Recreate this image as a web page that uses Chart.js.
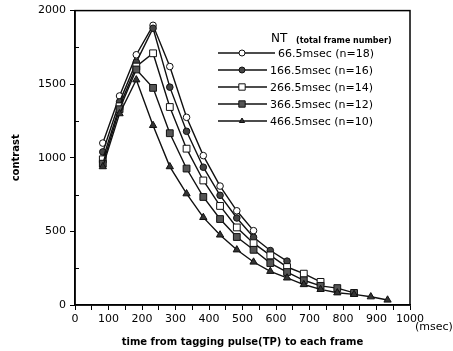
<!DOCTYPE html>
<html>
<head>
<meta charset="utf-8">
<script src="https://cdn.jsdelivr.net/npm/chart.js@4.4.1/dist/chart.umd.min.js"></script>
<style>
  html, body { margin: 0; padding: 0; background: #fff; }
  #wrap { width: 453px; height: 351px; position: relative; }
</style>
</head>
<body>
<div id="wrap"><canvas id="c"></canvas></div>
<script>
// time from tagging pulse (msec)
const times = [83, 133, 183, 233, 283, 333, 383, 433, 483, 533, 583, 633, 683, 733, 783, 833, 883, 933];

const labels = ['66.5msec (n=18)', '166.5msec (n=16)', '266.5msec (n=14)', '366.5msec (n=12)', '466.5msec (n=10)'];

const nt66  = [1100, 1420, 1700, 1900, 1620, 1275, 1015, 808, 640, 505];
const nt166 = [1040, 1380, 1650, 1880, 1480, 1180, 936, 745, 591, 460, 370, 298];
const nt266 = [990, 1350, 1620, 1710, 1345, 1062, 846, 673, 527, 420, 337, 258, 213, 157];
const nt366 = [960, 1330, 1600, 1475, 1167, 927, 734, 584, 462, 375, 285, 224, 168, 130, 115, 82];
const nt466 = [940, 1300, 1530, 1220, 940, 756, 595, 476, 375, 292, 229, 184, 139, 106, 83, 72, 56, 34];

const xTicks = { min: 0, max: 1000, step: 50 };
const yTicks = { min: 0, max: 2000, step: 500 };

const FONT = '"DejaVu Sans", Verdana, sans-serif';

function pts(vals) {
  return vals.map((v, i) => ({ x: times[i], y: v }));
}

function series(label, vals, style, fill, radius) {
  return {
    label: label,
    data: pts(vals),
    showLine: true,
    borderColor: '#111',
    borderWidth: 1.4,
    pointStyle: style,
    pointRadius: radius,
    pointBorderWidth: 1,
    pointBorderColor: '#111',
    pointBackgroundColor: fill,
    tension: 0,
  };
}

const datasets = [
  series(labels[4], nt466, 'triangle', '#333', 4.2),
  series(labels[3], nt366, 'rect', '#555', 4.8),
  series(labels[2], nt266, 'rect', '#fff', 4.8),
  series(labels[1], nt166, 'circle', '#444', 3.3),
  series(labels[0], nt66, 'circle', '#fff', 3.3),
];

function drawMarker(ctx, style, x, y, r, fill) {
  ctx.save();
  ctx.fillStyle = fill;
  ctx.strokeStyle = '#111';
  ctx.lineWidth = 1;
  ctx.beginPath();
  if (style === 'circle') {
    ctx.arc(x, y, r, 0, Math.PI * 2);
  } else if (style === 'rect') {
    const s = r * Math.SQRT1_2;
    ctx.rect(x - s, y - s, 2 * s, 2 * s);
  } else {
    ctx.moveTo(x, y - r);
    ctx.lineTo(x + r * 0.866, y + r * 0.5);
    ctx.lineTo(x - r * 0.866, y + r * 0.5);
    ctx.closePath();
  }
  ctx.fill();
  ctx.stroke();
  ctx.restore();
}

const decor = {
  id: 'decor',
  afterDraw(chart) {
    const ctx = chart.ctx;
    const a = chart.chartArea;
    const ys = chart.scales.y;

    ctx.save();
    // frame
    ctx.strokeStyle = '#000';
    ctx.lineWidth = 1.5;
    ctx.strokeRect(a.left, a.top, a.right - a.left, a.bottom - a.top);

    // minor y ticks, inside
    ctx.lineWidth = 1;
    for (let v = 250; v < 2000; v += 500) {
      const py = Math.round(ys.getPixelForValue(v)) + 0.5;
      ctx.beginPath();
      ctx.moveTo(a.left, py);
      ctx.lineTo(a.left + 4, py);
      ctx.stroke();
    }

    // unit
    ctx.fillStyle = '#000';
    ctx.font = '11px ' + FONT;
    ctx.textAlign = 'left';
    ctx.textBaseline = 'middle';
    ctx.fillText('(msec)', 415, 327);

    // legend
    ctx.font = '12px ' + FONT;
    ctx.fillText('NT', 271, 39);
    ctx.font = 'bold 8px ' + FONT;
    ctx.fillText('(total frame number)', 296, 41);

    ctx.font = '11px ' + FONT;
    const order = [4, 3, 2, 1, 0];
    order.forEach((di, row) => {
      const ds = chart.data.datasets[di];
      const y = 53 + row * 17;
      const tx = row === 0 ? 278 : 270;
      ctx.strokeStyle = '#111';
      ctx.lineWidth = 1.4;
      ctx.beginPath();
      ctx.moveTo(218, y);
      ctx.lineTo(tx - 3, y);
      ctx.stroke();
      drawMarker(ctx, ds.pointStyle, 242, y, ds.pointStyle === 'rect' ? 4.5 : 3, ds.pointBackgroundColor);
      ctx.fillStyle = '#000';
      ctx.fillText(ds.label, tx, y + 1);
    });
    ctx.restore();
  }
};

new Chart(document.getElementById('c'), {
  type: 'scatter',
  data: { datasets: datasets },
  options: {
    responsive: true,
    maintainAspectRatio: false,
    animation: false,
    events: [],
    layout: { padding: { top: 8, right: 43, left: 0, bottom: 0 } },
    plugins: {
      legend: { display: false },
      tooltip: { enabled: false },
    },
    scales: {
      x: {
        type: 'linear',
        min: xTicks.min,
        max: xTicks.max,
        afterFit(scale) { scale.height = 46; },
        border: { color: '#000', width: 1.5 },
        grid: { drawOnChartArea: false, drawTicks: true, tickLength: 5, color: '#000', lineWidth: 1 },
        ticks: {
          stepSize: xTicks.step,
          autoSkip: false,
          maxRotation: 0,
          padding: 3,
          color: '#000',
          font: { family: FONT, size: 11 },
          callback: v => (v % 100 === 0 ? String(v) : ''),
        },
        title: {
          display: true,
          text: 'time from tagging pulse(TP) to each frame',
          color: '#000',
          font: { family: FONT, size: 10, weight: 'bold' },
          padding: { top: 2, bottom: 3 },
        },
      },
      y: {
        type: 'linear',
        min: yTicks.min,
        max: yTicks.max,
        afterFit(scale) { scale.width = 75; },
        border: { color: '#000', width: 1.5 },
        grid: { drawOnChartArea: false, drawTicks: true, tickLength: 5, color: '#000', lineWidth: 1 },
        ticks: {
          stepSize: yTicks.step,
          padding: 4,
          color: '#000',
          font: { family: FONT, size: 11 },
          callback: v => String(v),
        },
        title: {
          display: true,
          text: 'contrast',
          color: '#000',
          font: { family: FONT, size: 10, weight: 'bold' },
          padding: { top: 10, bottom: 0 },
        },
      },
    },
  },
  plugins: [decor],
});
</script>
</body>
</html>
